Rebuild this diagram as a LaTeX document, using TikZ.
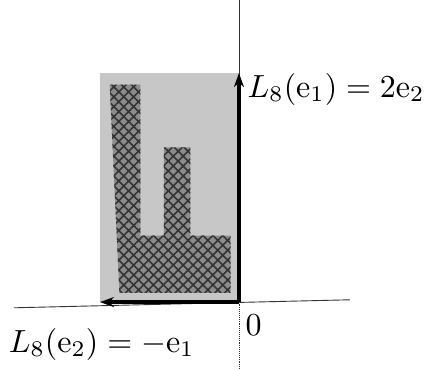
\documentclass[tikz,border=0pt]{standalone}
\usetikzlibrary{patterns.meta,arrows.meta}
\tikzset{
  lbl/.style={scale=3.2,inner sep=0pt},
  vec/.style={line width=4pt,-{Stealth[length=14pt,width=10pt]}},
  axis/.style={line width=0.9pt,black!80},
}
\newcommand{\letterpath}{(-0.93,1.9)--(-0.71,1.9)--(-0.71,0.58)--(-0.54,0.58)--(-0.54,1.35)--(-0.35,1.35)
  --(-0.35,0.58)--(-0.06,0.58)--(-0.06,0.08)--(-0.86,0.08)--cycle}
\begin{document}
\begin{tikzpicture}[x=139pt,y=114.5pt]
            \useasboundingbox(-1.719,-0.585)rectangle(1.36,2.638);
            \coordinate(O)at(0,0);
            \coordinate(A)at(-1,0);
            \coordinate(B)at(0,2);
            \coordinate(C)at(-1,2);
            % axes
            \draw[axis](-1.62,-0.05)--(0.8,0.02);
            \draw[axis,densely dotted](0,-0.585)--(0,0);
            \draw[axis](0,0)--(0,2.638);
            % image of the unit square
            \fill[black!22](O)rectangle(C);
            % image of the letter
            \fill[black!45]\letterpath;
            \foreach \ang in {45,-45}
              \fill[pattern={Lines[angle=\ang,distance=7pt,line width=1.6pt]},pattern color=black!80]\letterpath;
            \draw[vec](O)--(B);
            \draw[vec](O)--(A);
            \node[lbl,anchor=base west](l1)at(0.058,1.79){$L_8(\mathrm{e}_1)=2\mathrm{e}_2$};
            \node[lbl,anchor=base west](l2)at(-1.66,-0.437){$L_8(\mathrm{e}_2)=-\mathrm{e}_1$};
            \node[lbl,anchor=base west](o)at(0.043,-0.288){$0$};
        \end{tikzpicture}
\end{document}
